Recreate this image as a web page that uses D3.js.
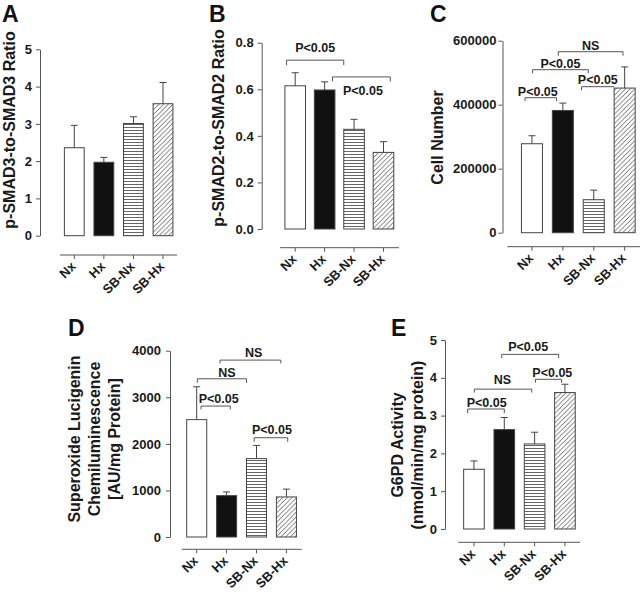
<!DOCTYPE html>
<html>
<head>
<meta charset="utf-8">
<script src="https://cdn.jsdelivr.net/npm/d3@7"></script>
<style>
  html, body { margin: 0; padding: 0; background: #fff; }
  svg { display: block; font-family: "Liberation Sans", Arial, Helvetica, sans-serif; font-weight: bold; }
</style>
</head>
<body>
<svg id="chart" width="640" height="594"></svg>
<script>
// ---------------- DATA ----------------
const categories = ["Nx", "Hx", "SB-Nx", "SB-Hx"];

const smad3Mean = [2.36, 1.97, 3.01, 3.54];
const smad3Err  = [0.60, 0.13, 0.18, 0.57];
const smad3Ticks = [0, 1, 2, 3, 4, 5];

const smad2Mean = [0.615, 0.597, 0.428, 0.329];
const smad2Err  = [0.056, 0.035, 0.043, 0.046];
const smad2Ticks = [0.0, 0.2, 0.4, 0.6, 0.8];
const smad2Brackets = [
  { from: "Nx", to: "SB-Nx", y: 0.725, label: "P<0.05" },
  { from: "Hx", to: "SB-Hx", y: 0.653, label: "P<0.05" }
];

const cellMean = [278000, 382000, 103000, 452000];
const cellErr  = [25000, 23000, 30000, 66000];
const cellTicks = [0, 200000, 400000, 600000];
const cellBrackets = [
  { from: "Hx", to: "SB-Hx", y: 565600, label: "NS" },
  { from: "Nx", to: "SB-Nx", y: 509400, label: "P<0.05" },
  { from: "SB-Nx", to: "SB-Hx", y: 456250, label: "P<0.05" },
  { from: "Nx", to: "Hx", y: 421900, label: "P<0.05" }
];

const superoxideMean = [2520, 888, 1683, 860];
const superoxideErr  = [705, 80, 283, 168];
const superoxideTicks = [0, 1000, 2000, 3000, 4000];
const superoxideBrackets = [
  { from: "Hx", to: "SB-Hx", y: 3798, label: "NS" },
  { from: "Nx", to: "SB-Nx", y: 3397, label: "NS" },
  { from: "Nx", to: "Hx", y: 2811, label: "P<0.05" },
  { from: "SB-Nx", to: "SB-Hx", y: 2131, label: "P<0.05" }
];

const g6pdMean = [1.58, 2.63, 2.25, 3.61];
const g6pdErr  = [0.22, 0.32, 0.31, 0.22];
const g6pdTicks = [0, 1, 2, 3, 4, 5];
const g6pdBrackets = [
  { from: "Hx", to: "SB-Hx", y: 4.62, label: "P<0.05" },
  { from: "Nx", to: "SB-Nx", y: 3.70, label: "NS" },
  { from: "SB-Nx", to: "SB-Hx", y: 3.96, label: "P<0.05" },
  { from: "Nx", to: "Hx", y: 3.175, label: "P<0.05" }
];

// ---------------- LAYOUT / STYLE ----------------
const panels = [
  { letter: "A", letterPos: [2, 22], mean: smad3Mean, err: smad3Err, ticks: smad3Ticks, fmt: d3.format("d"),
    yAxisX: 40, yPx: [235.7, 49.3], xRange: [59.5, 177.8], pad: 0.33, xAxisY: 255, xLine: [60, 177], tickPad: 4,
    ylabel: ["p-SMAD3-to-SMAD3 Ratio"], ylabelX: [15], ylabelY: 130, brackets: [], bOpts: [] },
  { letter: "B", letterPos: [209, 22], mean: smad2Mean, err: smad2Err, ticks: smad2Ticks, fmt: d3.format(".1f"),
    yAxisX: 261.7, yPx: [229, 42.7], xRange: [280.5, 398.2], pad: 0.30, xAxisY: 247.7, xLine: [280, 399], tickPad: 4,
    ylabel: ["p-SMAD2-to-SMAD2 Ratio"], ylabelX: [223.5], ylabelY: 128, brackets: smad2Brackets,
    bOpts: [[0.08, 0, 5, 5, 0, -8.5], [0.88, 0.83, 4.5, 4.5, 1.5, 18]] },
  { letter: "C", letterPos: [430, 22], mean: cellMean, err: cellErr, ticks: cellTicks, fmt: d3.format("d"),
    yAxisX: 502.5, yPx: [232.7, 40.7], xRange: [516.5, 640.1], pad: 0.32, xAxisY: 246.7, xLine: [507.3, 640], tickPad: 2,
    ylabel: ["Cell Number"], ylabelX: [443], ylabelY: 137.5, brackets: cellBrackets,
    bOpts: [[0.28, 0.42, 4, 4, 0, -1.5], [0.53, 0.24, 3.6, 3.6, 0, -1.5], [-0.08, 0, 3.6, 0, 0, -2.7], [0.17, 0.2, 3.3, 3.3, -3, -2]] },
  { letter: "D", letterPos: [68, 336], mean: superoxideMean, err: superoxideErr, ticks: superoxideTicks, fmt: d3.format("d"),
    yAxisX: 170, yPx: [537, 350.7], xRange: [181.75, 301.35], pad: 0.33, xAxisY: 549.3, xLine: [181.7, 301.7], tickPad: 5,
    ylabel: ["Superoxide Lucigenin", "Chemiluminescence", "[AU/mg Protein]"], ylabelX: [79.5, 99.5, 119.5], ylabelY: 439,
    brackets: superoxideBrackets,
    bOpts: [[0.17, 0.22, 3.3, 3.3, 3.4, -2.7], [0.53, 0, 4, 4, 5, -2], [0.715, 0.685, 3.3, 3.3, 3, -2.7], [0.385, 0.565, 4, 4, 1, -3.7]] },
  { letter: "E", letterPos: [391, 336], mean: g6pdMean, err: g6pdErr, ticks: g6pdTicks, fmt: d3.format("d"),
    yAxisX: 445, yPx: [529, 340], xRange: [458.8, 580.1], pad: 0.32, xAxisY: 542.3, xLine: [458.3, 580], tickPad: 4,
    ylabel: ["G6PD Activity", "(nmol/min/mg protein)"], ylabelX: [403, 422.5], ylabelY: 445,
    brackets: g6pdBrackets,
    bOpts: [[0.375, 0.195, 3.7, 3.7, -2, -3.6], [0.52, 0.36, 3.4, 3.4, -0.7, -5], [0.54, 0.34, 3.4, 3.4, 3.8, -2.6], [0.195, 0.5, 4.3, 4.3, 0.7, -2.3]] }
];

const AXIS_COLOR = "#555";
const TEXT_COLOR = "#1a1a1a";
const BAR_STROKE = "#444";

const svg = d3.select("#chart");

// patterns
const defs = svg.append("defs");
const hpat = defs.append("pattern").attr("id", "hlines")
  .attr("patternUnits", "userSpaceOnUse").attr("width", 6).attr("height", 3);
hpat.append("rect").attr("width", 6).attr("height", 3).attr("fill", "#fff");
hpat.append("line").attr("x1", 0).attr("x2", 6).attr("y1", 1.5).attr("y2", 1.5)
  .attr("stroke", "#555").attr("stroke-width", 0.9);

const dpat = defs.append("pattern").attr("id", "diag")
  .attr("patternUnits", "userSpaceOnUse").attr("width", 4.7).attr("height", 4.7);
dpat.append("rect").attr("width", 4.7).attr("height", 4.7).attr("fill", "#fff");
dpat.append("path").attr("d", "M0,4.7 L4.7,0 M-1,1 L1,-1 M3.7,5.7 L5.7,3.7")
  .attr("stroke", "#555").attr("stroke-width", 0.9);

const fills = ["#fff", "#111", "url(#hlines)", "url(#diag)"];

panels.forEach(p => {
  const g = svg.append("g");
  const ymax = p.ticks[p.ticks.length - 1];
  const y = d3.scaleLinear().domain([0, ymax]).range(p.yPx);
  const x = d3.scaleBand().domain(categories).range(p.xRange)
    .paddingInner(p.pad).paddingOuter(p.pad / 2);

  // panel letter
  g.append("text").attr("x", p.letterPos[0]).attr("y", p.letterPos[1])
    .attr("font-size", 23).attr("fill", "#111").text(p.letter);

  // y axis
  const yAxis = d3.axisLeft(y).tickValues(p.ticks).tickFormat(p.fmt)
    .tickSizeInner(4).tickSizeOuter(0).tickPadding(p.tickPad);
  const ya = g.append("g").attr("transform", `translate(${p.yAxisX},0)`).call(yAxis);
  ya.selectAll("path, line").attr("stroke", AXIS_COLOR);
  ya.selectAll("text").attr("font-size", 13).attr("font-family", null)
    .attr("font-weight", "bold").attr("fill", TEXT_COLOR);

  // x axis
  const xAxis = d3.axisBottom(x).tickSizeInner(4).tickSizeOuter(0).tickFormat("");
  const xa = g.append("g").attr("transform", `translate(0,${p.xAxisY})`).call(xAxis);
  xa.select(".domain").remove();
  xa.selectAll("line").attr("stroke", AXIS_COLOR);
  xa.append("line").attr("x1", p.xLine[0]).attr("x2", p.xLine[1])
    .attr("stroke", AXIS_COLOR);
  xa.selectAll(".tick").append("text")
    .attr("transform", "translate(-1,9) rotate(-45)")
    .attr("text-anchor", "end").attr("dy", "0.35em")
    .attr("font-size", 13).attr("fill", TEXT_COLOR)
    .text(d => d);

  // bars
  g.selectAll(".bar").data(categories).enter().append("rect")
    .attr("x", d => x(d))
    .attr("width", x.bandwidth())
    .attr("y", (d, i) => y(p.mean[i]))
    .attr("height", (d, i) => y(0) - y(p.mean[i]))
    .attr("fill", (d, i) => fills[i])
    .attr("stroke", BAR_STROKE).attr("stroke-width", 1);

  // error bars (upper only)
  const eg = g.selectAll(".err").data(categories).enter().append("g");
  eg.append("line")
    .attr("x1", d => x(d) + x.bandwidth() / 2).attr("x2", d => x(d) + x.bandwidth() / 2)
    .attr("y1", (d, i) => y(p.mean[i])).attr("y2", (d, i) => y(p.mean[i] + p.err[i]))
    .attr("stroke", BAR_STROKE);
  eg.append("line")
    .attr("x1", d => x(d) + x.bandwidth() / 2 - 3.5).attr("x2", d => x(d) + x.bandwidth() / 2 + 3.5)
    .attr("y1", (d, i) => y(p.mean[i] + p.err[i])).attr("y2", (d, i) => y(p.mean[i] + p.err[i]))
    .attr("stroke", BAR_STROKE);

  // brackets
  p.brackets.forEach((b, k) => {
    const o = p.bOpts[k];
    const x1 = x(b.from) + o[0] * x.bandwidth();
    const x2 = x(b.to) + o[1] * x.bandwidth();
    const yy = y(b.y);
    g.append("path")
      .attr("d", `M${x1},${yy + o[2]}V${yy}H${x2}V${yy + o[3]}`)
      .attr("fill", "none").attr("stroke", AXIS_COLOR).attr("stroke-width", 1);
    g.append("text").attr("x", (x1 + x2) / 2 + o[4]).attr("y", yy + o[5])
      .attr("text-anchor", "middle").attr("font-size", 12.5).attr("fill", TEXT_COLOR)
      .text(b.label);
  });

  // y label
  p.ylabel.forEach((t, k) => {
    g.append("text")
      .attr("transform", `translate(${p.ylabelX[k]},${p.ylabelY}) rotate(-90)`)
      .attr("text-anchor", "middle").attr("font-size", 16).attr("fill", TEXT_COLOR)
      .text(t);
  });
});
</script>
</body>
</html>
